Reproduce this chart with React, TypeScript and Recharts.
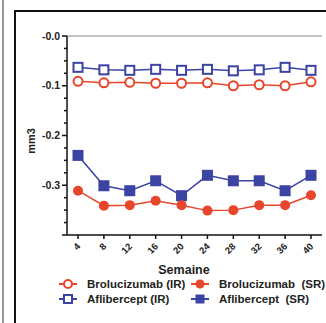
import React from "react"
import { LineChart, Line, XAxis, YAxis, ReferenceLine } from "recharts"

const weeks = [4, 8, 12, 16, 20, 24, 28, 32, 36, 40]
const brolucizumabIR = [-0.091, -0.094, -0.093, -0.095, -0.095, -0.094, -0.1, -0.098, -0.1, -0.092]
const brolucizumabSR = [-0.311, -0.341, -0.34, -0.331, -0.34, -0.351, -0.35, -0.34, -0.34, -0.32]
const afliberceptIR = [-0.063, -0.068, -0.069, -0.067, -0.069, -0.067, -0.07, -0.068, -0.063, -0.069]
const afliberceptSR = [-0.24, -0.301, -0.311, -0.291, -0.321, -0.28, -0.291, -0.291, -0.311, -0.28]
const yTicks = [0, -0.025, -0.05, -0.075, -0.1, -0.125, -0.15, -0.175, -0.2, -0.225, -0.25, -0.275, -0.3, -0.325, -0.35, -0.375, -0.4]
const yLabels: Record<string, string> = { "0": "-0.0", "-0.1": "-0.1", "-0.2": "-0.2", "-0.3": "-0.3" }

const RED = "#e8462c"
const BLUE = "#3b43a3"
const FONT = "'Liberation Sans', Arial, sans-serif"

const data = weeks.map((w, i) => ({
  week: w,
  bIR: brolucizumabIR[i],
  bSR: brolucizumabSR[i],
  aIR: afliberceptIR[i],
  aSR: afliberceptSR[i],
}))

const OpenCircle = (props: any) => {
  const { cx, cy } = props
  return <circle cx={cx} cy={cy} r={4.5} fill="#fff" stroke={RED} strokeWidth={2} />
}
const FilledCircle = (props: any) => {
  const { cx, cy } = props
  return <circle cx={cx} cy={cy} r={5} fill={RED} stroke="none" />
}
const OpenSquare = (props: any) => {
  const { cx, cy } = props
  return <rect x={cx - 4.5} y={cy - 4.5} width={9} height={9} fill="#fff" stroke={BLUE} strokeWidth={2} />
}
const FilledSquare = (props: any) => {
  const { cx, cy } = props
  return <rect x={cx - 5.5} y={cy - 5.5} width={11} height={11} fill={BLUE} stroke="none" />
}

const YTick = (props: any) => {
  const { x, y, payload } = props
  const axisX = x + 7
  const label = yLabels[String(payload.value)]
  const major = label !== undefined || payload.value === -0.4
  return (
    <g>
      <line x1={axisX - (major ? 5 : 3)} x2={axisX} y1={y} y2={y} stroke="#111" strokeWidth={1.5} />
      {label && (
        <text x={x} y={y} dy={3.5} textAnchor="end" fontSize={10.5} fontWeight="bold" fill="#222" fontFamily={FONT}>
          {label}
        </text>
      )}
    </g>
  )
}

const XTick = (props: any) => {
  const { x, y, payload } = props
  return (
    <text
      x={x + 3}
      y={y + 5}
      textAnchor="end"
      fontSize={9.5}
      fontWeight="bold"
      fill="#222"
      fontFamily={FONT}
      transform={`rotate(-45, ${x + 3}, ${y + 5})`}
    >
      {payload.value}
    </text>
  )
}

const YLabel = () => (
  <text x={35} y={141} textAnchor="middle" fontSize={11} fontWeight="bold" fill="#222" fontFamily={FONT} transform="rotate(-90, 35, 141)">
    mm3
  </text>
)

const legendItems = [
  { label: "Brolucizumab (IR)", color: RED, shape: "openCircle", left: 57, top: 278 },
  { label: "Brolucizumab  (SR)", color: RED, shape: "filledCircle", left: 189, top: 278 },
  { label: "Aflibercept (IR)", color: BLUE, shape: "openSquare", left: 57, top: 293 },
  { label: "Aflibercept  (SR)", color: BLUE, shape: "filledSquare", left: 189, top: 293 },
]

const LegendMarker = ({ shape, color }: { shape: string; color: string }) => (
  <svg width={22} height={12} style={{ display: "block" }}>
    <line x1={2} x2={20} y1={6} y2={6} stroke={color} strokeWidth={2} />
    {shape === "openCircle" && <circle cx={11} cy={6} r={4} fill="#fff" stroke={color} strokeWidth={2} />}
    {shape === "filledCircle" && <circle cx={11} cy={6} r={4.5} fill={color} />}
    {shape === "openSquare" && <rect x={7} y={2} width={8} height={8} fill="#fff" stroke={color} strokeWidth={2} />}
    {shape === "filledSquare" && <rect x={6.5} y={1.5} width={9} height={9} fill={color} />}
  </svg>
)

const ChartLegend = () => (
  <div style={{ position: "absolute", left: 0, top: 0, width: 326, height: 323, fontFamily: FONT, pointerEvents: "none" }}>
    <div style={{ position: "absolute", left: 0, width: 326, top: 263, textAlign: "center", paddingLeft: 42, boxSizing: "border-box", fontSize: 12.5, fontWeight: "bold", color: "#222" }}>
      Semaine
    </div>
    {legendItems.map((it) => (
      <div key={it.label} style={{ position: "absolute", left: it.left, top: it.top, display: "flex", alignItems: "center", whiteSpace: "pre" }}>
        <LegendMarker shape={it.shape} color={it.color} />
        <span style={{ marginLeft: 8, fontSize: 11.5, fontWeight: "bold", color: "#222", lineHeight: "12px" }}>{it.label}</span>
      </div>
    ))}
  </div>
)

export default function App() {
  return (
    <div style={{ position: "absolute", left: 0, top: 0, width: 326, height: 323, background: "#fff", overflow: "hidden" }}>
      <div style={{ position: "absolute", left: 2, top: 0, width: 2, height: 323, background: "#9a9a9a" }} />
      <div style={{ position: "absolute", left: 14, top: 10, width: 1.5, height: 313, background: "#111" }} />
      <div style={{ position: "absolute", left: 14, top: 10, width: 312, height: 1.5, background: "#111" }} />
      <div style={{ position: "absolute", left: 0, top: 0 }}>
        <LineChart width={326} height={323} data={data} margin={{ top: 36, right: 4, left: 27, bottom: 58 }}>
          <XAxis
            dataKey="week"
            type="number"
            domain={[2.3, 41.7]}
            ticks={weeks}
            interval={0}
            tick={<XTick />}
            tickSize={4}
            tickMargin={3}
            axisLine={{ stroke: "#111", strokeWidth: 1.5 }}
            tickLine={{ stroke: "#111", strokeWidth: 1.5 }}
            height={30}
          />
          <YAxis
            type="number"
            domain={[-0.4, 0]}
            ticks={yTicks}
            interval={0}
            width={40}
            tick={<YTick />}
            tickSize={5}
            tickMargin={2}
            tickLine={false}
            axisLine={{ stroke: "#111", strokeWidth: 1.5 }}
            label={{ content: <YLabel /> }}
          />
          <ReferenceLine y={0} stroke="#b0b0b0" strokeWidth={1.5} />
          <Line dataKey="aSR" stroke={BLUE} strokeWidth={1.5} dot={<FilledSquare />} isAnimationActive={false} />
          <Line dataKey="bSR" stroke={RED} strokeWidth={1.5} dot={<FilledCircle />} isAnimationActive={false} />
          <Line dataKey="aIR" stroke={BLUE} strokeWidth={1.5} dot={<OpenSquare />} isAnimationActive={false} />
          <Line dataKey="bIR" stroke={RED} strokeWidth={1.5} dot={<OpenCircle />} isAnimationActive={false} />
        </LineChart>
      </div>
      <ChartLegend />
    </div>
  )
}
